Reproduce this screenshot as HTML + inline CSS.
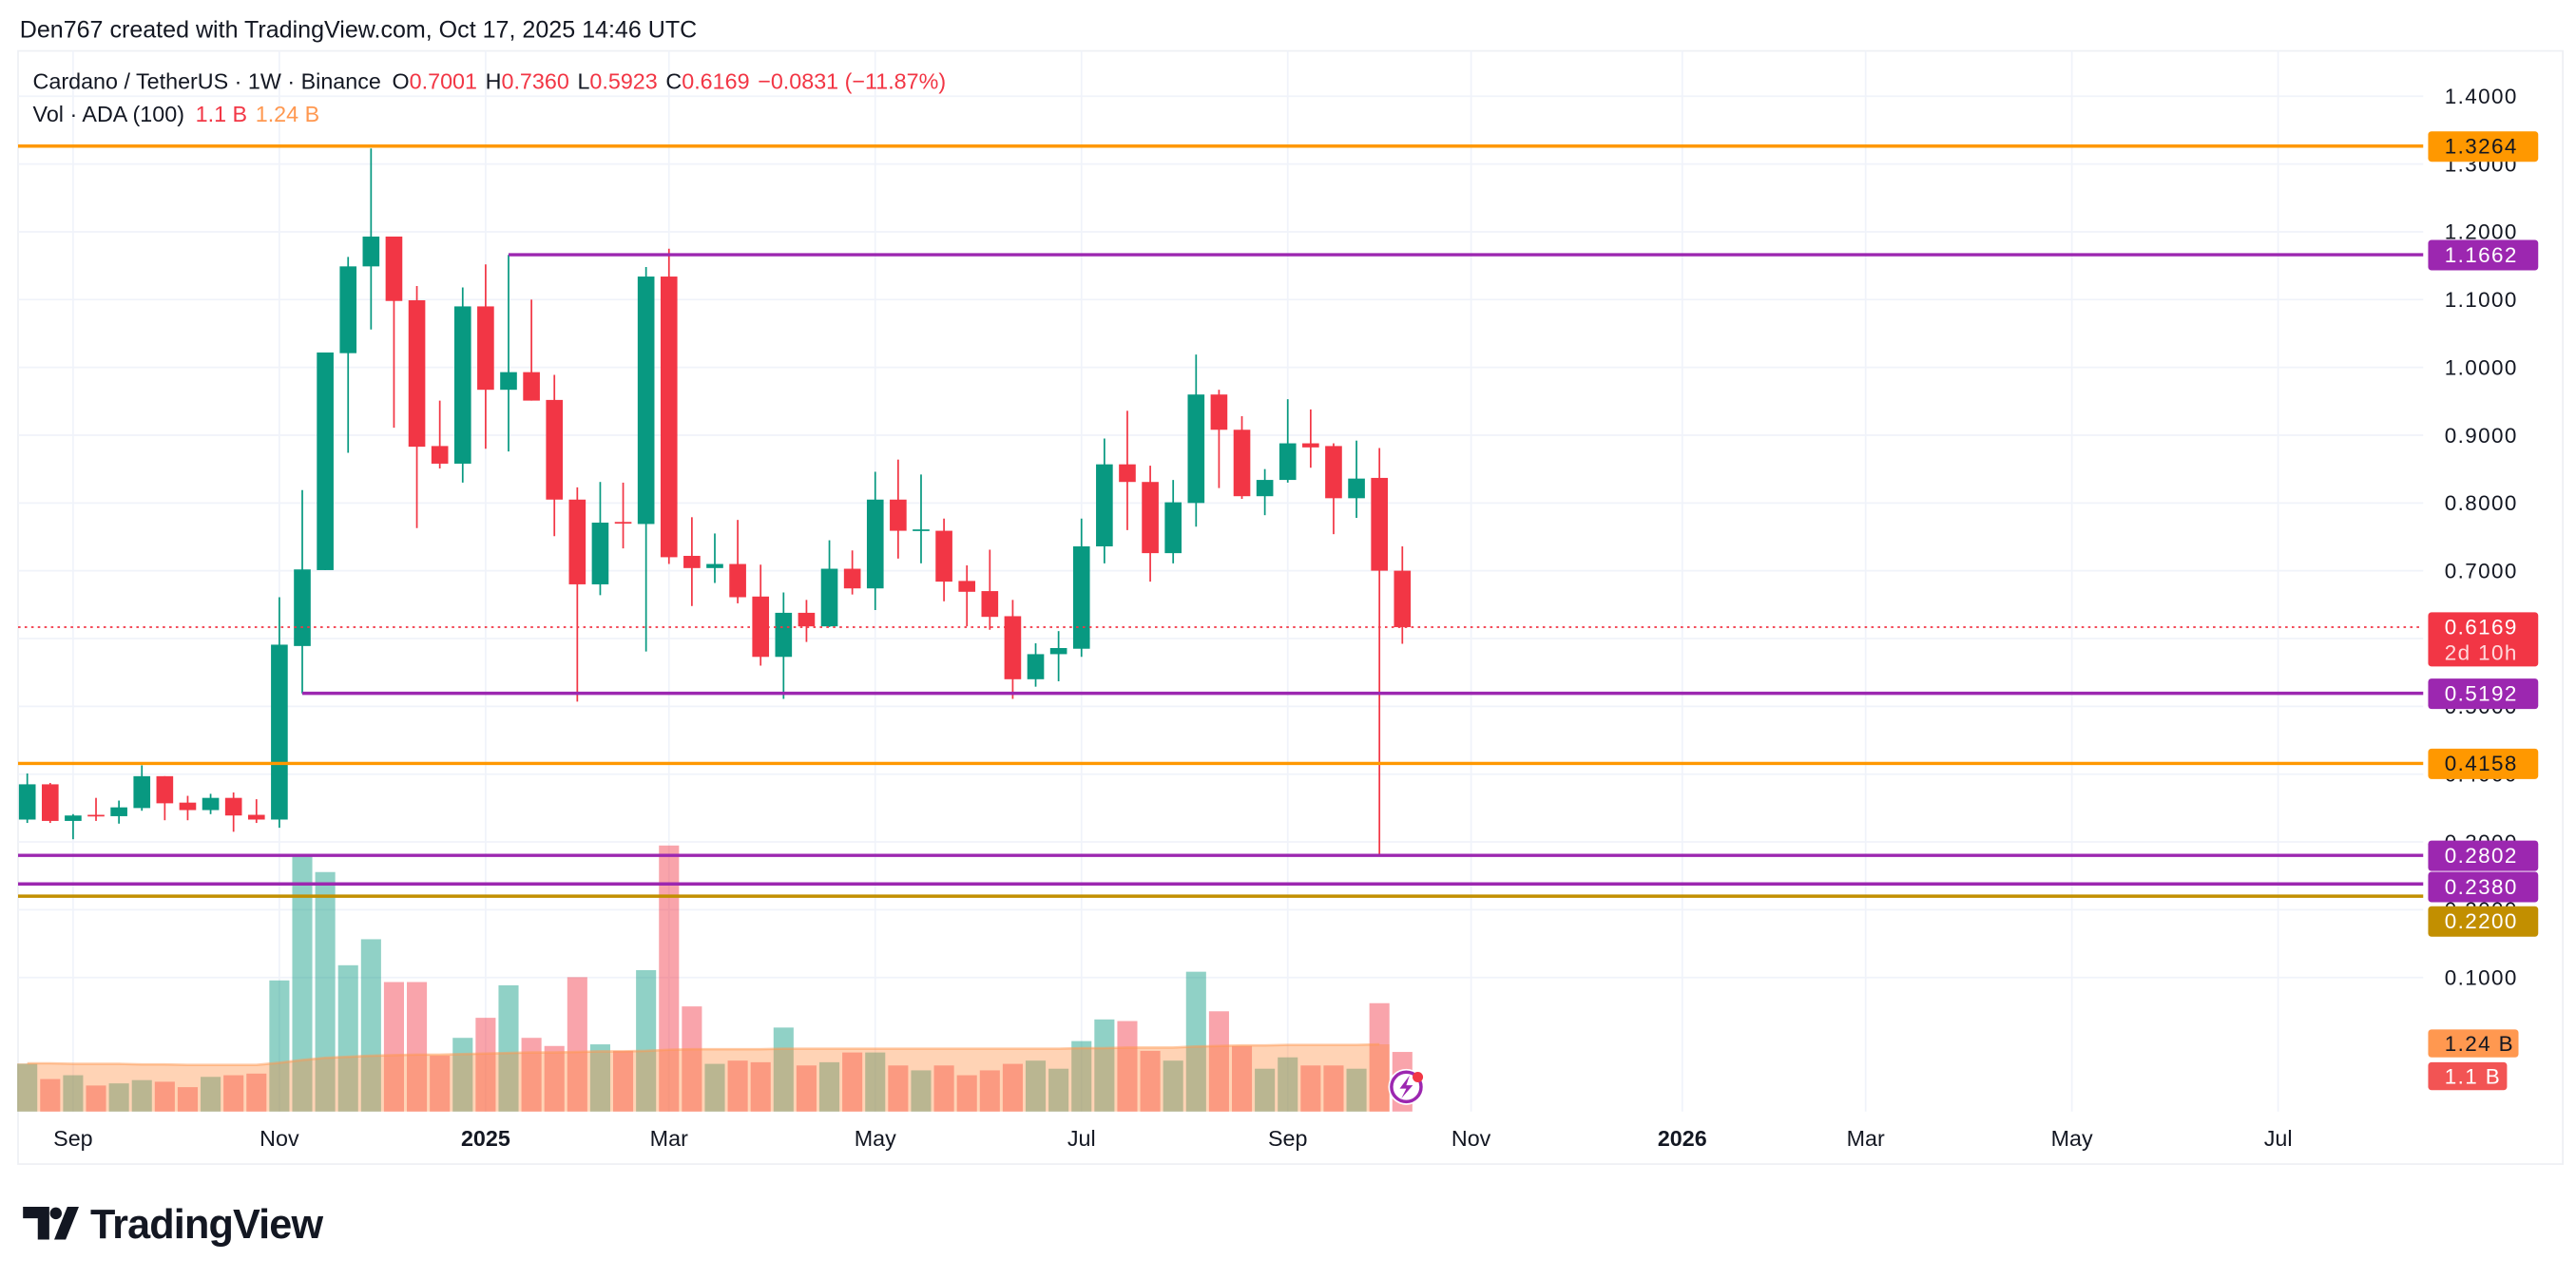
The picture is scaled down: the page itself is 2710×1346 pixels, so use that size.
<!DOCTYPE html>
<html><head><meta charset="utf-8"><style>
html,body{margin:0;padding:0;background:#fff;}
svg{display:block;font-family:"Liberation Sans",sans-serif;}
</style></head><body>
<svg id="chart" width="2710" height="1346" viewBox="0 0 1568 779" preserveAspectRatio="none" xmlns="http://www.w3.org/2000/svg">
<text x="12" y="23" font-size="14.5" fill="#131722">Den767 created with TradingView.com, Oct 17, 2025 14:46 UTC</text>
<rect x="11" y="31" width="1549" height="678" fill="none" stroke="#eef0f4" stroke-width="1"/>
<g id="grid"></g>
<g id="vol"></g>
<g id="candles"></g>
<g id="levels"></g>
<g id="axis"></g>
<g id="taxis"></g>
<g font-size="13.5">
<text x="20" y="54" fill="#131722">Cardano / TetherUS · 1W · Binance <tspan dx="3">O</tspan><tspan fill="#f23645">0.7001</tspan><tspan dx="5">H</tspan><tspan fill="#f23645">0.7360</tspan><tspan dx="5">L</tspan><tspan fill="#f23645">0.5923</tspan><tspan dx="5">C</tspan><tspan fill="#f23645">0.6169</tspan><tspan dx="5" fill="#f23645">−0.0831 (−11.87%)</tspan></text>
<text x="20" y="74" fill="#131722">Vol · ADA (100) <tspan dx="3" fill="#f23645">1.1 B</tspan><tspan dx="5" fill="#ff9850">1.24 B</tspan></text>
</g>
<g>
<circle cx="856" cy="662" r="11" fill="#fff"/>
<circle cx="856" cy="662" r="9" fill="#fff" stroke="#9c27b0" stroke-width="2"/>
<path d="M858 655 L852 663 L856 663 L853 669 L860 661 L856 661 Z" fill="#9c27b0"/>
<circle cx="863" cy="656" r="3.2" fill="#f23645"/>
</g>
<g>
<path d="M14 735 H30 V755 H23 V742 H14 Z" fill="#131722"/>
<circle cx="34" cy="739" r="3.6" fill="#131722"/>
<path d="M41 735 H48 L40 755 H33 Z" fill="#131722"/>
<text x="55" y="754" font-size="25" font-weight="bold" fill="#131722" letter-spacing="-0.5">TradingView</text>
</g>
</svg>
<script>
const opens =[0.333,0.385,0.331,0.340,0.338,0.350,0.397,0.358,0.347,0.365,0.340,0.333,0.589,0.701,1.021,1.149,1.193,1.099,0.884,0.858,1.090,0.967,0.993,0.952,0.805,0.680,0.772,0.769,1.134,0.722,0.704,0.710,0.662,0.573,0.638,0.618,0.703,0.674,0.805,0.759,0.759,0.685,0.670,0.633,0.540,0.577,0.585,0.736,0.857,0.831,0.726,0.800,0.960,0.908,0.810,0.834,0.888,0.884,0.807,0.837,0.7001];
const highs =[0.401,0.387,0.341,0.365,0.361,0.413,0.397,0.368,0.371,0.373,0.363,0.661,0.819,1.022,1.163,1.323,1.193,1.120,0.951,1.118,1.152,1.166,1.100,0.989,0.823,0.831,0.830,1.148,1.175,0.779,0.755,0.775,0.709,0.668,0.657,0.745,0.730,0.846,0.864,0.842,0.777,0.708,0.731,0.657,0.593,0.611,0.777,0.895,0.936,0.855,0.834,1.019,0.967,0.928,0.850,0.953,0.938,0.888,0.892,0.881,0.7360];
const lows  =[0.328,0.328,0.304,0.331,0.327,0.346,0.332,0.332,0.341,0.315,0.328,0.321,0.519,0.701,0.874,1.056,0.911,0.763,0.851,0.830,0.880,0.876,0.951,0.751,0.507,0.664,0.733,0.581,0.710,0.648,0.682,0.652,0.560,0.511,0.595,0.617,0.665,0.642,0.718,0.711,0.655,0.618,0.613,0.511,0.529,0.537,0.573,0.711,0.760,0.684,0.711,0.765,0.822,0.806,0.782,0.830,0.852,0.754,0.778,0.2802,0.5923];
const closes=[0.385,0.331,0.339,0.338,0.351,0.397,0.357,0.347,0.365,0.339,0.333,0.591,0.702,1.022,1.149,1.193,1.098,0.883,0.858,1.090,0.967,0.993,0.951,0.805,0.680,0.771,0.770,1.134,0.720,0.704,0.710,0.661,0.573,0.638,0.618,0.703,0.674,0.805,0.759,0.761,0.684,0.669,0.632,0.540,0.577,0.586,0.736,0.857,0.831,0.726,0.801,0.960,0.908,0.810,0.834,0.888,0.882,0.807,0.836,0.7001,0.6169];
const volumes=[0.88,0.60,0.67,0.48,0.52,0.58,0.55,0.45,0.64,0.67,0.70,2.42,4.73,4.42,2.70,3.18,2.39,2.39,1.03,1.36,1.73,2.33,1.36,1.21,2.48,1.24,1.12,2.61,4.91,1.94,0.88,0.94,0.91,1.55,0.85,0.91,1.09,1.09,0.85,0.76,0.85,0.67,0.76,0.88,0.94,0.79,1.30,1.70,1.67,1.12,0.94,2.58,1.85,1.21,0.79,1.00,0.85,0.85,0.79,2.00,1.10];
const volMA=[0.89,0.89,0.88,0.88,0.88,0.87,0.87,0.86,0.86,0.86,0.86,0.90,0.95,0.99,1.01,1.03,1.04,1.05,1.05,1.06,1.07,1.08,1.09,1.09,1.10,1.11,1.11,1.12,1.14,1.15,1.15,1.15,1.15,1.16,1.16,1.16,1.16,1.16,1.16,1.16,1.16,1.16,1.16,1.16,1.16,1.16,1.17,1.17,1.18,1.18,1.18,1.20,1.21,1.22,1.22,1.23,1.23,1.23,1.23,1.24];
const firstWeek="2024-08-19";
const timeLabels=["Sep","Nov","2025","Mar","May","Jul","Sep","Nov","2026","Mar","May","Jul"];
const timeDates=["2024-09-01","2024-11-01","2025-01-01","2025-03-01","2025-05-01","2025-07-01","2025-09-01","2025-11-01","2026-01-01","2026-03-01","2026-05-01","2026-07-01"];
const priceTicks=[1.4,1.3,1.2,1.1,1.0,0.9,0.8,0.7,0.5,0.4,0.3,0.2,0.1];
const levelPrices=[1.3264,1.1662,0.5192,0.4158,0.2802,0.2380,0.2200];
const levelStartIdx=[-1,21,12,-1,-1,-1,-1];
const levelColors=["#ff9800","#9c27b0","#9c27b0","#ff9800","#9c27b0","#9c27b0","#c28f00"];
const levelText=["#131722","#fff","#fff","#131722","#fff","#fff","#fff"];
const lastPrice=0.6169;

const NS="http://www.w3.org/2000/svg";
const PL=11, PR=1475;
const X0=16.6, STEP=13.95, BW=10.2, VW=12.2;
const yP=p=>89+(1.3264-p)*412.9;
const VB=677, VS=33;
const yV=v=>VB-v*VS;
const xI=i=>X0+i*STEP;
const xD=d=>X0+(Math.floor((new Date(d)-new Date(firstWeek))/(7*864e5)+0.001)+1)*STEP+(d>"2025-12"?3:0);
function mk(tag,attrs,parent){const e=document.createElementNS(NS,tag);for(const k in attrs)e.setAttribute(k,attrs[k]);parent.appendChild(e);return e;}
const G=id=>document.getElementById(id);

// grid
const grid=G('grid');
priceTicks.concat([0.6]).forEach(p=>{const l=mk('line',{x1:PL,x2:PR,y1:yP(p),y2:yP(p),stroke:'#f0f3fa','stroke-width':1},grid);

});
timeDates.forEach(d=>{const l=mk('line',{x1:xD(d),x2:xD(d),y1:31,y2:677,stroke:'#f0f3fa','stroke-width':1},grid);

});

// volume
const vol=G('vol');
volumes.forEach((v,i)=>{const up=closes[i]>=opens[i];
const r=mk('rect',{x:xI(i)-VW/2,y:yV(v),width:VW,height:v*VS,fill:up?'rgba(8,153,129,0.45)':'rgba(242,54,69,0.45)'},vol);

});
let pts=volMA.map((v,i)=>[xI(i),yV(v)]);
let path='M'+(xI(0)-VW/2)+' '+VB+' L'+(xI(0)-VW/2)+' '+pts[0][1]+' '+pts.map(p=>'L'+p[0]+' '+p[1]).join(' ')+' L'+(xI(volMA.length-1)+VW/2)+' '+pts[pts.length-1][1]+' L'+(xI(volMA.length-1)+VW/2)+' '+VB+' Z';
const area=mk('path',{d:path,fill:'rgba(255,140,60,0.38)'},vol);


const mal=mk('polyline',{points:pts.map(p=>p.join(',')).join(' '),fill:'none',stroke:'rgba(255,152,80,0.5)','stroke-width':1.5},vol);



// candles
const cg=G('candles');
opens.forEach((o,i)=>{const c=closes[i],up=c>=o,col=up?'#089981':'#f23645';const x=xI(i);
const g=mk('g',{},cg);


mk('line',{x1:x,x2:x,y1:yP(highs[i]),y2:yP(lows[i]),stroke:col,'stroke-width':1},g);
const t=yP(Math.max(o,c)),b=yP(Math.min(o,c));
mk('rect',{x:x-BW/2,y:t,width:BW,height:Math.max(1,b-t),fill:col},g);});

// levels
const lv=G('levels');
const cur=mk('line',{x1:PL,x2:PR,y1:yP(lastPrice),y2:yP(lastPrice),stroke:'#f23645','stroke-width':1,'stroke-dasharray':'1.5 2.5'},lv);


levelPrices.forEach((p,i)=>{const x1=levelStartIdx[i]<0?PL:xI(levelStartIdx[i]);
const l=mk('line',{x1:x1,x2:PR,y1:yP(p),y2:yP(p),stroke:levelColors[i],'stroke-width':2},lv);

});

// price axis
const ax=G('axis');
priceTicks.forEach(p=>{const t=mk('text',{x:1488,y:yP(p)+4.5,'font-size':13,fill:'#131722','letter-spacing':'0.8'},ax);t.textContent=p.toFixed(4);

});
function box(y,h,fill,w){return mk('rect',{x:1478,y:y,width:w||67,height:h,rx:2,fill:fill},ax);}
function btxt(y,s,col){const t=mk('text',{x:1488,y:y,'font-size':13,fill:col,'letter-spacing':'0.8'},ax);t.textContent=s;return t;}
const labelY=levelPrices.map(yP);labelY[6]=561;labelY[5]=540;labelY[4]=521;
levelPrices.forEach((p,i)=>{const b=box(labelY[i]-9,18.5,levelColors[i]);


const t=btxt(labelY[i]+4.5,p.toFixed(4),levelText[i]);

});
const lb=box(yP(lastPrice)-9,33,'#f23645');


const lt=btxt(yP(lastPrice)+4.5,lastPrice.toFixed(4),'#fff');


const ct=btxt(yP(lastPrice)+20,'2d 10h','#ffd9dc');


const mb=box(627,17,'#ff9850',55);


const mt=btxt(640,volMA[volMA.length-1].toFixed(2)+' B','#131722');


const vb=box(647,17,'#f25454',48);


const vt=btxt(660,volumes[volumes.length-1].toFixed(1)+' B','#fff');


const sep=mk('line',{x1:1560,x2:1560,y1:31,y2:709,stroke:'#eef0f4','stroke-width':1},ax);



// time axis
const ta=G('taxis');
timeLabels.forEach((s,i)=>{const bold=/^\d{4}$/.test(s);
const t=mk('text',{x:xD(timeDates[i]),y:698,'font-size':13.5,'text-anchor':'middle',fill:'#131722','font-weight':bold?'bold':'normal'},ta);t.textContent=s;

});
</script>
</body></html>
